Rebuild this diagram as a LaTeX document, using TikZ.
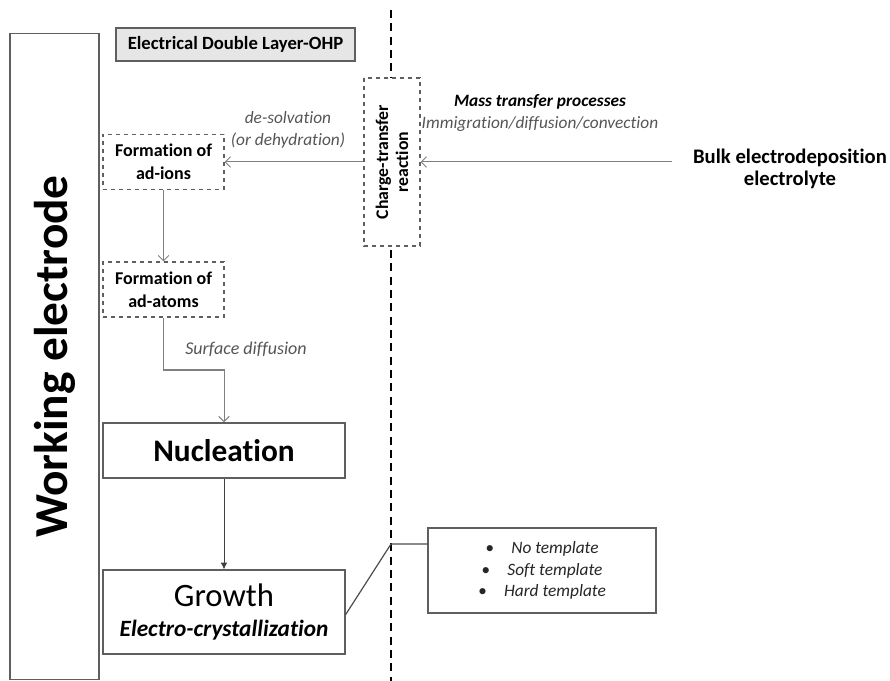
\documentclass[tikz,border=0pt]{standalone}
\usepackage{fontspec}
\setmainfont{Carlito}[Ligatures=NoCommon]
\usepackage{tikz}
\usetikzlibrary{arrows.meta, positioning, calc}
\definecolor{LineGray}{RGB}{128,128,128}
\definecolor{BoxGray}{RGB}{95,95,95}
\definecolor{LabelGray}{RGB}{85,85,85}
\definecolor{LayerFill}{RGB}{230,230,230}

\begin{document}
\begin{tikzpicture}[x=0.75pt, y=-0.75pt,
		stage/.style={draw=BoxGray, line width=0.9pt, fill=white, align=center, inner sep=2pt},
		adbox/.style={draw=BoxGray, dashed, line width=0.8pt, fill=white, minimum width=90.75pt, minimum height=41.25pt, align=center, font=\fontsize{13.5}{17}\selectfont\bfseries},
		lbl/.style={align=center, text=LabelGray, font=\fontsize{13}{16.5}\selectfont\itshape},
		arr/.style={-{Straight Barb[length=4pt, width=8pt]}, LineGray, line width=0.75pt},
		sep/.style={dash pattern=on 6pt off 4pt, line width=1.4pt, black}]
	\useasboundingbox (0,0) rectangle (890,681);

	% interface line
	\coordinate (septop) at (391,10);
	\coordinate (sepbot) at (391,681);
	\draw[sep] (septop) -- (sepbot);

	\node[stage, rotate=90, minimum width=485pt, minimum height=66.75pt, font=\fontsize{35.5}{40}\selectfont\bfseries] (elec) at (54.5,356.5) {Working electrode};
	\node[stage, fill=LayerFill, minimum width=179.25pt, minimum height=24.75pt, font=\fontsize{14}{16}\selectfont\bfseries] (edl) at (235.5,44.5) {Electrical Double Layer-OHP};
	\node[adbox, rotate=90, minimum width=126pt, minimum height=42pt, font=\fontsize{13.3}{15}\selectfont\bfseries] (ct) at (392,162) {Charge-transfer\\reaction};
	\node[adbox] (ions) at (163.5,162) {Formation of\\ad-ions};
	\node[adbox] (atoms) at (163.5,289.5) {Formation of\\ad-atoms};
	\node[stage, minimum width=181.5pt, minimum height=41.25pt, font=\fontsize{23.5}{27}\selectfont\bfseries] (nucl) at (224,450.5) {Nucleation};
	\node[stage, minimum width=181.5pt, minimum height=63pt, font=\fontsize{17.5}{23}\selectfont] (growth) at (224,612) {{\fontsize{24.5}{27}\selectfont Growth}\\{\bfseries\itshape Electro-crystallization}};
	\node[stage, minimum width=171pt, minimum height=63.75pt, font=\fontsize{13}{16}\selectfont\itshape, text=black!85] (tmpl) at (542,570.5) {\textbullet\quad No template\\\textbullet\quad Soft template\\\textbullet\quad Hard template};
	\node[font=\fontsize{15.5}{17}\selectfont\bfseries, align=center] (bulk) at (790,169) {Bulk electrodeposition\\electrolyte};

	\node[lbl] (mass) at (540,113) {{\bfseries\color{black}Mass transfer processes}\\Immigration/diffusion/convection};
	\node[lbl] (desolv) at (288,130) {de-solvation\\(or dehydration)};
	\node[lbl, font=\fontsize{13.5}{16.5}\selectfont\itshape] (surf) at (246,349) {Surface diffusion};

	\coordinate (feed) at (672,162);
	\coordinate (bend) at (224,370);
	\coordinate (joint) at (391,544);
	\draw[arr] (feed) -- (ct);
	\draw[arr] (ct) -- (ions);
	\draw[arr] (ions) -- (atoms);
	\draw[arr] (atoms.south) |- (bend) -- (nucl.north);
	\draw[-{Latex[length=5pt, width=5pt]}, black!75, line width=0.75pt] (nucl) -- (growth);
	\draw[black!70, line width=0.9pt] ([yshift=-2pt]growth.east) -- (joint) -- (joint -| tmpl.west);
\end{tikzpicture}
\end{document}
